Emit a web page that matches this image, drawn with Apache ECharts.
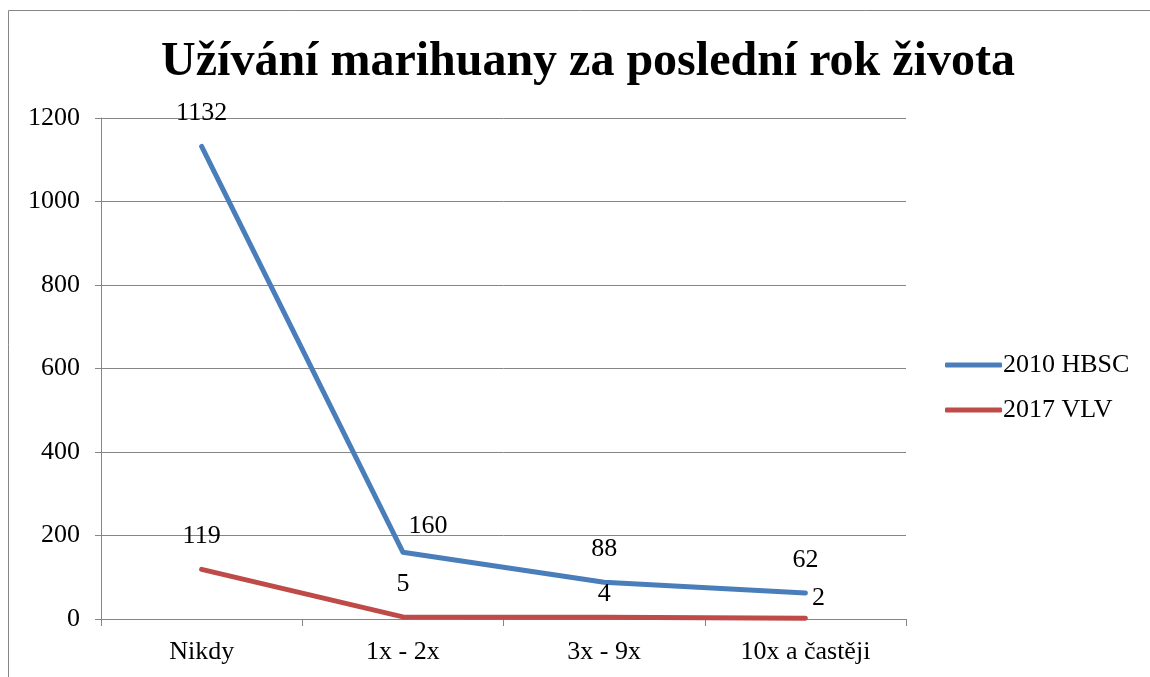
<!DOCTYPE html>
<html>
<head>
<meta charset="utf-8">
<script src="https://cdn.jsdelivr.net/npm/echarts@6/dist/echarts.min.js"></script>
<style>
  html, body { margin: 0; padding: 0; background: #fff; }
  #chart { width: 1150px; height: 677px; }
</style>
</head>
<body>
<div id="chart"></div>
<script>
const categories = ['Nikdy', '1x - 2x', '3x - 9x', '10x a častěji'];
const hbsc2010 = [1132, 160, 88, 62];
const vlv2017 = [119, 5, 4, 2];
const seriesNames = ['2010 HBSC', '2017 VLV'];

// label nudges (px) to mimic where the original placed them
const hbscLabelShift = [[0, 0], [25, 7], [0, 0], [0, 0]];
const vlvLabelShift = [[0, 0], [0, 0], [0, 10], [13, 13]];

const font = '"Liberation Serif", "Times New Roman", serif';

const withShift = (values, shifts) => values.map((v, i) => ({
  value: v,
  label: { offset: shifts[i] }
}));

const chart = echarts.init(document.getElementById('chart'));

// tiny symbol hidden under the line, just so the labels have an anchor
const lineSeries = (name, values, shifts, color) => ({
  name,
  type: 'line',
  data: withShift(values, shifts),
  symbol: 'circle',
  symbolSize: 2,
  showSymbol: true,
  lineStyle: { width: 5, color, cap: 'round', join: 'round' },
  itemStyle: { color },
  label: {
    show: true,
    position: 'top',
    distance: 19,
    color: '#000',
    fontFamily: font,
    fontSize: 26
  }
});

chart.setOption({
  animation: false,
  backgroundColor: '#fff',
  textStyle: { fontFamily: font },
  graphic: [{
    type: 'rect',
    shape: { x: 8.5, y: 10.5, width: 1300, height: 900 },
    style: { fill: 'none', stroke: '#868686', lineWidth: 1 },
    silent: true
  }],
  title: {
    text: 'Užívání marihuany za poslední rok života',
    left: 583,
    top: 34,
    textAlign: 'center',
    textStyle: { fontFamily: font, fontSize: 48, fontWeight: 'bold', color: '#000' }
  },
  legend: {
    orient: 'vertical',
    left: 940,
    top: 347,
    itemWidth: 57,
    itemHeight: 5,
    itemGap: 19,
    icon: 'roundRect',
    textStyle: { fontFamily: font, fontSize: 26, color: '#000', padding: [0, 0, 0, -4] },
    data: seriesNames
  },
  grid: { left: 101, right: 244, top: 118, bottom: 58, outerBoundsMode: 'none' },
  xAxis: {
    type: 'category',
    data: categories,
    boundaryGap: true,
    axisLine: { lineStyle: { color: '#868686', width: 1 } },
    axisTick: { show: true, length: 7, alignWithLabel: false, lineStyle: { color: '#868686' } },
    axisLabel: { color: '#000', fontFamily: font, fontSize: 26, margin: 20 }
  },
  yAxis: {
    type: 'value',
    min: 0,
    max: 1200,
    interval: 200,
    axisLine: { show: true, lineStyle: { color: '#868686', width: 1 } },
    axisTick: { show: true, length: 6, lineStyle: { color: '#868686' } },
    splitLine: { lineStyle: { color: '#868686', width: 1 } },
    axisLabel: { color: '#000', fontFamily: font, fontSize: 26, margin: 21, formatter: (v) => String(v) }
  },
  series: [
    lineSeries(seriesNames[0], hbsc2010, hbscLabelShift, '#4a7ebb'),
    lineSeries(seriesNames[1], vlv2017, vlvLabelShift, '#be4b48')
  ]
});
</script>
</body>
</html>
